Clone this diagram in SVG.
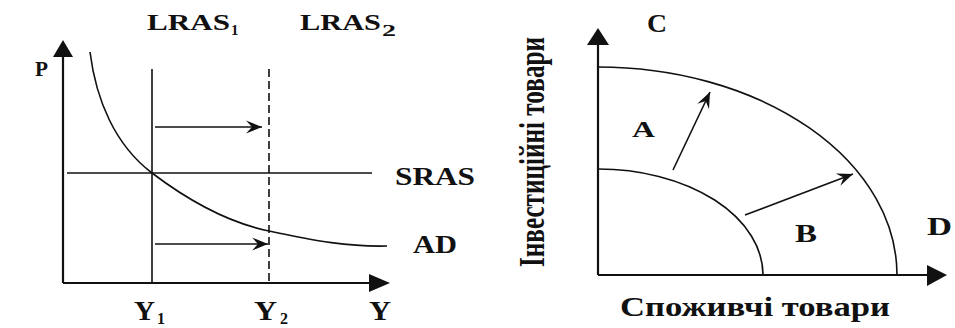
<svg xmlns="http://www.w3.org/2000/svg" width="955" height="328" viewBox="0 0 955 328">
<style>
.ln{fill:none;stroke:#111;stroke-width:1.6}
.ax{fill:none;stroke:#111;stroke-width:2.2}
.hd{fill:#111}
.t{font-family:"Liberation Serif","DejaVu Serif",serif;fill:#111;font-weight:bold}
</style>
<defs>
<marker id="st" viewBox="-17 -7 18 14" refX="0" refY="0" markerWidth="18" markerHeight="14" markerUnits="userSpaceOnUse" orient="auto">
<path d="M0,0 L-16,-6.5 L-10,0 L-16,6.5 Z" fill="#111"/>
</marker>
</defs>
<rect width="955" height="328" fill="#fff"/>
<g id="left-chart">
<g id="left-axes">
<path class="ax" d="M63,283 V56 M63,283 H370"/>
<polygon class="hd" points="63,40 53,57 73,57"/>
<polygon class="hd" points="390,283 369,274 369,292"/>
</g>
<g id="connectors-left">
<path class="ln" d="M152,69 V283"/>
<path class="ln" d="M269,69 V283" stroke-dasharray="8 4"/>
<path class="ln" d="M67,173 H372"/>
<path class="ln" d="M90,52 C96,100 115,145 152,173 C185,198 225,222 269,231 C315,241 350,247 387,246"/>
<path class="ln" d="M155,127 H262" marker-end="url(#st)"/>
<path class="ln" d="M155,244 H268" marker-end="url(#st)"/>
</g>
<g id="left-labels">
<text class="t" x="147" y="30" font-size="24" textLength="83" lengthAdjust="spacingAndGlyphs">LRAS</text>
<text class="t" x="231" y="35" font-size="15">1</text>
<text class="t" x="300" y="30" font-size="24" textLength="81" lengthAdjust="spacingAndGlyphs">LRAS</text>
<text class="t" x="382" y="36" font-size="17" textLength="14" lengthAdjust="spacingAndGlyphs">2</text>
<text class="t" x="35" y="76" font-size="20" textLength="13" lengthAdjust="spacingAndGlyphs">P</text>
<text class="t" x="395" y="185" font-size="25" textLength="80" lengthAdjust="spacingAndGlyphs">SRAS</text>
<text class="t" x="413" y="253" font-size="26" textLength="44" lengthAdjust="spacingAndGlyphs">AD</text>
<text class="t" x="134" y="320" font-size="27" textLength="21" lengthAdjust="spacingAndGlyphs">Y</text>
<text class="t" x="157" y="324" font-size="16">1</text>
<text class="t" x="254" y="320" font-size="27" textLength="23" lengthAdjust="spacingAndGlyphs">Y</text>
<text class="t" x="280" y="324" font-size="16">2</text>
<text class="t" x="369" y="320" font-size="27" textLength="22" lengthAdjust="spacingAndGlyphs">Y</text>
</g>
</g>
<g id="right-chart">
<g id="right-axes">
<path class="ax" d="M598,275 V44 M598,275 H929"/>
<polygon class="hd" points="598,28 587,45 609,45"/>
<polygon class="hd" points="947,275 927,265 927,286"/>
</g>
<g id="connectors-right">
<path class="ln" d="M598,67 A299,208 0 0 1 897,275"/>
<path class="ln" d="M598,169 A165,106 0 0 1 763,275"/>
<path class="ln" d="M673,170 L710,92" marker-end="url(#st)"/>
<path class="ln" d="M745,215 L853,174" marker-end="url(#st)"/>
</g>
<g id="right-labels">
<text class="t" x="647" y="32" font-size="25" textLength="20" lengthAdjust="spacingAndGlyphs">C</text>
<text class="t" x="632" y="137" font-size="23" textLength="23" lengthAdjust="spacingAndGlyphs">A</text>
<text class="t" x="795" y="242" font-size="25" textLength="22" lengthAdjust="spacingAndGlyphs">B</text>
<text class="t" x="927" y="235" font-size="25" textLength="25" lengthAdjust="spacingAndGlyphs">D</text>
<text class="t" x="620" y="316" font-size="28" textLength="270" lengthAdjust="spacingAndGlyphs">Споживчі товари</text>
<text class="t" transform="translate(544,267) rotate(-90)" x="0" y="0" font-size="35" textLength="230" lengthAdjust="spacingAndGlyphs">Інвестиційні товари</text>
</g>
</g>
</svg>
